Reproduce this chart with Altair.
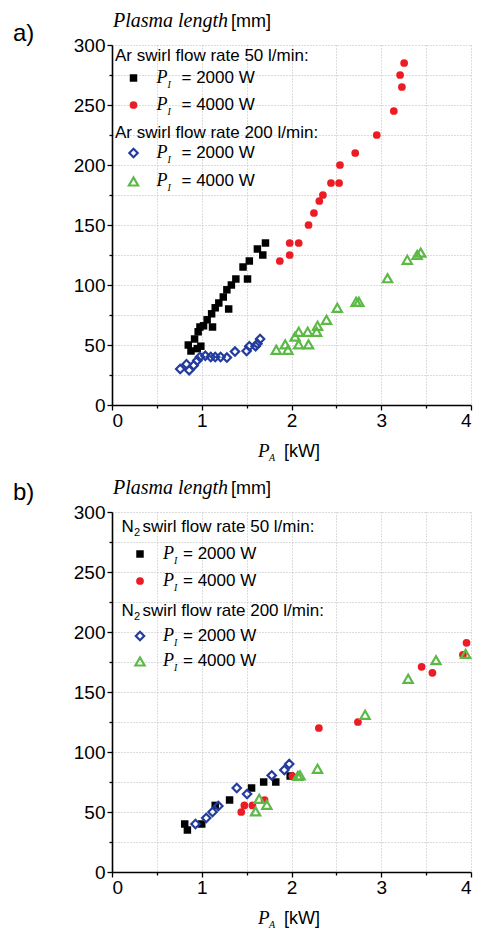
import altair as alt
import pandas as pd

# ---------------- data ----------------
# Panel a) Ar
a_sq_x = [0.85, 0.88, 0.95, 0.99, 0.92, 0.96, 0.98, 1.02, 1.06, 1.11, 1.12, 1.15, 1.19, 1.24, 1.28, 1.30, 1.33, 1.38, 1.46, 1.51, 1.53, 1.62, 1.68, 1.71]
a_sq_y = [50, 45, 47, 49, 55, 61, 65, 66, 71, 76, 65, 81, 85, 90, 96, 80, 100, 105, 115, 105, 120, 130, 125, 135]
a_ci_x = [1.87, 1.98, 1.98, 2.08, 2.19, 2.25, 2.31, 2.35, 2.44, 2.53, 2.54, 2.71, 2.95, 3.14, 3.23, 3.21, 3.255]
a_ci_y = [120, 125, 135, 135, 150, 160, 170, 175, 185, 185, 200, 210, 225, 245, 265, 275, 285]
a_di_x = [0.76, 0.83, 0.86, 0.91, 0.95, 0.98, 1.04, 1.10, 1.15, 1.21, 1.28, 1.37, 1.50, 1.53, 1.60, 1.62, 1.65]
a_di_y = [30, 34, 29, 33, 37, 40, 41, 40, 40, 40, 39.5, 44.5, 45, 49, 49, 51, 55]
a_tr_x = [1.83, 1.96, 1.93, 2.04, 2.08, 2.08, 2.19, 2.18, 2.28, 2.29, 2.39, 2.51, 2.72, 2.75, 3.07, 3.29, 3.40, 3.44]
a_tr_y = [46, 46, 50.5, 57, 61, 50.5, 50.5, 61, 61, 66, 71, 81, 86, 86, 105.6, 121, 125, 127]

# Panel b) N2
b_sq_x = [0.81, 0.84, 1.00, 1.15, 1.31, 1.555, 1.69, 1.825, 1.985]
b_sq_y = [40, 35, 40, 55.5, 60, 70, 75, 75, 80]
b_ci_x = [1.44, 1.475, 1.565, 1.70, 2.01, 2.305, 2.74, 3.45, 3.57, 3.91, 3.95]
b_ci_y = [50, 55.5, 55.5, 60, 80, 120, 125, 171, 166, 181, 191]
b_di_x = [0.93, 1.05, 1.12, 1.185, 1.39, 1.505, 1.78, 1.92, 1.975]
b_di_y = [40, 45, 50, 55, 70, 65, 80.5, 85, 90]
b_tr_x = [1.60, 1.64, 1.725, 2.07, 2.095, 2.29, 2.82, 3.30, 3.61, 3.94]
b_tr_y = [50.5, 61, 56, 80, 80.5, 86, 131, 161, 176.5, 181.8]

x_ticks = [0, 0.5, 1, 1.5, 2, 2.5, 3, 3.5, 4]
y_ticks = [0, 25, 50, 75, 100, 125, 150, 175, 200, 225, 250, 275, 300]

BLACK = "#000000"
RED = "#ec1c24"
BLUE = "#233c9e"
GREEN = "#5bb946"
SANS = "Liberation Sans"
SERIF = "Liberation Serif"

W, H = 359, 360

dummy = pd.DataFrame({"d": [0]})


def txt(s, x, y, size=17, font=SANS, style="normal", align="left"):
    return alt.Chart(dummy).mark_text(
        text=s, align=align, baseline="alphabetic", font=font,
        fontSize=size, fontStyle=style, color="black"
    ).encode(x=alt.value(x), y=alt.value(y))


def mark_for(kind, base):
    if kind == "sq":
        return base.mark_point(shape="square", filled=True, size=56, color=BLACK, opacity=1)
    if kind == "ci":
        return base.mark_circle(size=60, color=RED, opacity=1)
    if kind == "di":
        return base.mark_point(shape="diamond", filled=False, size=70, strokeWidth=2.2, color=BLUE, opacity=1)
    return base.mark_point(shape="triangle-up", filled=False, size=85, strokeWidth=2.2, color=GREEN, opacity=1)


def marker(kind, x, y):
    return mark_for(kind, alt.Chart(dummy)).encode(x=alt.value(x), y=alt.value(y))


xaxis = alt.Axis(
    values=x_ticks, title=None,
    labelExpr="datum.value % 1 === 0 ? '' + datum.value : ''",
    tickSize={"condition": {"test": "datum.value % 1 === 0", "value": 5}, "value": 3},
    labelPadding=1,
)
yaxis = alt.Axis(
    values=y_ticks, title=None,
    labelExpr="datum.value % 50 === 0 ? '' + datum.value : ''",
    tickSize={"condition": {"test": "datum.value % 50 === 0", "value": 5}, "value": 3},
    labelPadding=2,
)
xs = alt.Scale(domain=[0, 4], nice=False, zero=False)
ys = alt.Scale(domain=[0, 300], nice=False, zero=False)


def series(xv, yv, kind):
    df = pd.DataFrame({"x": xv, "y": yv})
    return mark_for(kind, alt.Chart(df)).encode(
        x=alt.X("x:Q", scale=xs, axis=xaxis),
        y=alt.Y("y:Q", scale=ys, axis=yaxis),
    )


def p_label(x, y, sub, size=18, sub_dy=5):
    return [
        txt("P", x, y, size=size, font=SERIF, style="italic"),
        txt(sub, x + 11, y + sub_dy, size=10, font=SERIF, style="italic"),
    ]


def panel(letter, gas_sub, data, hx, mx, px, eqx, rows):
    layers = [series(*data[0], "sq"), series(*data[1], "ci"),
              series(*data[2], "di"), series(*data[3], "tr")]
    # panel letter and y title
    layers.append(txt(letter, -99, rows["letter"], size=24))
    layers.append(txt("Plasma length", 1, -18.5, size=20, font=SERIF, style="italic"))
    layers.append(txt("[mm]", 119, -18.5, size=18))
    # x title
    layers += p_label(146, 412, "A", size=19, sub_dy=4)
    layers.append(txt("[kW]", 172, 412, size=18))
    # legend headers
    for key, flow in (("h1", "50"), ("h2", "200")):
        yb = rows[key]
        if gas_sub:
            layers.append(txt("N", hx, yb))
            layers.append(txt("2", hx + 12.5, yb + 4, size=11))
            layers.append(txt(f"swirl flow rate {flow} l/min:", hx + 21, yb))
        else:
            layers.append(txt(f"Ar swirl flow rate {flow} l/min:", hx, yb))
    # legend entries
    for kind, key, pw in (("sq", "r1", "2000"), ("ci", "r2", "4000"),
                          ("di", "r3", "2000"), ("tr", "r4", "4000")):
        yb = rows[key]
        layers.append(marker(kind, mx, yb - 4.5))
        layers += p_label(px, yb, "I")
        layers.append(txt(f"= {pw} W", eqx, yb))
    return alt.layer(*layers).properties(width=W, height=H)


panel_a = panel(
    "a)", False,
    [(a_sq_x, a_sq_y), (a_ci_x, a_ci_y), (a_di_x, a_di_y), (a_tr_x, a_tr_y)],
    hx=3, mx=21.5, px=44.5, eqx=69.5,
    rows={"letter": -4, "h1": 16, "r1": 37.5, "r2": 64.5, "h2": 92.5, "r3": 112.5, "r4": 141},
)
panel_b = panel(
    "b)", True,
    [(b_sq_x, b_sq_y), (b_ci_x, b_ci_y), (b_di_x, b_di_y), (b_tr_x, b_tr_y)],
    hx=9.5, mx=28, px=51, eqx=71,
    rows={"letter": -12, "h1": 19.5, "r1": 46.5, "r2": 73.5, "h2": 103.5, "r3": 128.5, "r4": 154},
)

chart = alt.vconcat(panel_a, panel_b, spacing=107, bounds="flush").properties(
    padding={"left": 5, "top": 2, "right": 0, "bottom": 0}
).configure_view(stroke=None).configure_axis(
    domainColor="black", domainWidth=1.6, tickColor="black", tickWidth=1.3,
    labelFont=SANS, labelFontSize=19, labelColor="black",
    grid=True, gridColor="#b8b8b8", gridDash=[1, 2], gridWidth=1,
)

chart.save("out.html", embed_options={"renderer": "svg", "actions": False})
